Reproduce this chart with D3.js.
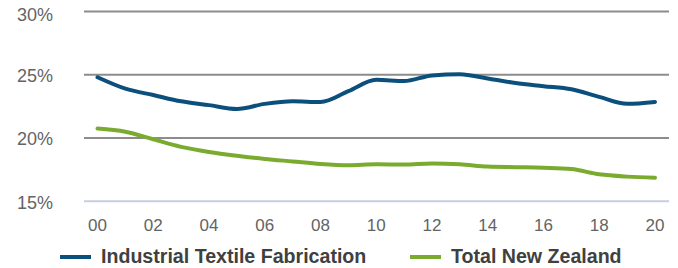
<!DOCTYPE html>
<html>
<head>
<meta charset="utf-8">
<script src="https://cdn.jsdelivr.net/npm/d3@7"></script>
<style>
  body { margin: 0; background: #fff; }
  text { font-family: "Liberation Sans", Arial, sans-serif; }
</style>
</head>
<body>
<svg id="chart" width="678" height="268"></svg>
<script>
// data
const years = [2000, 2001, 2002, 2003, 2004, 2005, 2006, 2007, 2008, 2009, 2010,
               2011, 2012, 2013, 2014, 2015, 2016, 2017, 2018, 2019, 2020];
const textile = [24.8, 23.9, 23.4, 22.9, 22.6, 22.3, 22.7, 22.9, 22.85, 23.7, 24.6,
                 24.5, 24.95, 25.05, 24.7, 24.35, 24.1, 23.85, 23.25, 22.7, 22.85];
const totalNZ = [20.75, 20.5, 19.9, 19.3, 18.9, 18.6, 18.35, 18.15, 17.95, 17.85, 17.92,
                 17.9, 17.98, 17.92, 17.75, 17.7, 17.65, 17.55, 17.13, 16.95, 16.87];
const yTicks = [15, 20, 25, 30];
const xTicks = [2000, 2002, 2004, 2006, 2008, 2010, 2012, 2014, 2016, 2018, 2020];
const seriesNames = ["Industrial Textile Fabrication", "Total New Zealand"];
const colors = ["#0b4f7d", "#7aab2f"];

const svg = d3.select("#chart");

const x = d3.scaleLinear().domain([2000, 2020]).range([97.5, 655]);
const y = d3.scaleLinear().domain([15, 30]).range([201.3, 11.5]);

// gridlines
svg.append("g")
  .selectAll("line")
  .data(yTicks)
  .join("line")
    .attr("x1", 84)
    .attr("x2", 669)
    .attr("y1", d => y(d))
    .attr("y2", d => y(d))
    .attr("stroke", d => d === 15 ? "#c8cde2" : "#8c8c8c")
    .attr("stroke-width", 2);

// y labels
svg.append("g")
  .selectAll("text")
  .data(yTicks)
  .join("text")
    .attr("x", 53)
    .attr("y", d => y(d) + (d === 30 ? 4.5 : 2.5))
    .attr("dominant-baseline", "middle")
    .attr("text-anchor", "end")
    .attr("fill", "#646464")
    .style("font-size", "18px")
    .text(d => d + "%");

// x labels
svg.append("g")
  .selectAll("text")
  .data(xTicks)
  .join("text")
    .attr("x", d => x(d))
    .attr("y", 231)
    .attr("text-anchor", "middle")
    .attr("fill", "#646464")
    .style("font-size", "17px")
    .text(d => String(d % 100).padStart(2, "0"));

const line = d3.line()
  .curve(d3.curveMonotoneX)
  .x((d, i) => x(years[i]))
  .y(d => y(d));

[textile, totalNZ].forEach((s, i) => {
  svg.append("path")
    .datum(s)
    .attr("d", line)
    .attr("fill", "none")
    .attr("stroke", colors[i])
    .attr("stroke-width", 4)
    .attr("stroke-linecap", "round");
});

// legend
const legendX = [60, 410];
seriesNames.forEach((name, i) => {
  svg.append("line")
    .attr("x1", legendX[i])
    .attr("x2", legendX[i] + 31)
    .attr("y1", 257)
    .attr("y2", 257)
    .attr("stroke", colors[i])
    .attr("stroke-width", 4);
  svg.append("text")
    .attr("x", legendX[i] + 41)
    .attr("y", 257.5)
    .attr("dominant-baseline", "middle")
    .attr("fill", "#404040")
    .style("font-size", "19.6px")
    .style("font-weight", "bold")
    .text(name);
});
</script>
</body>
</html>
